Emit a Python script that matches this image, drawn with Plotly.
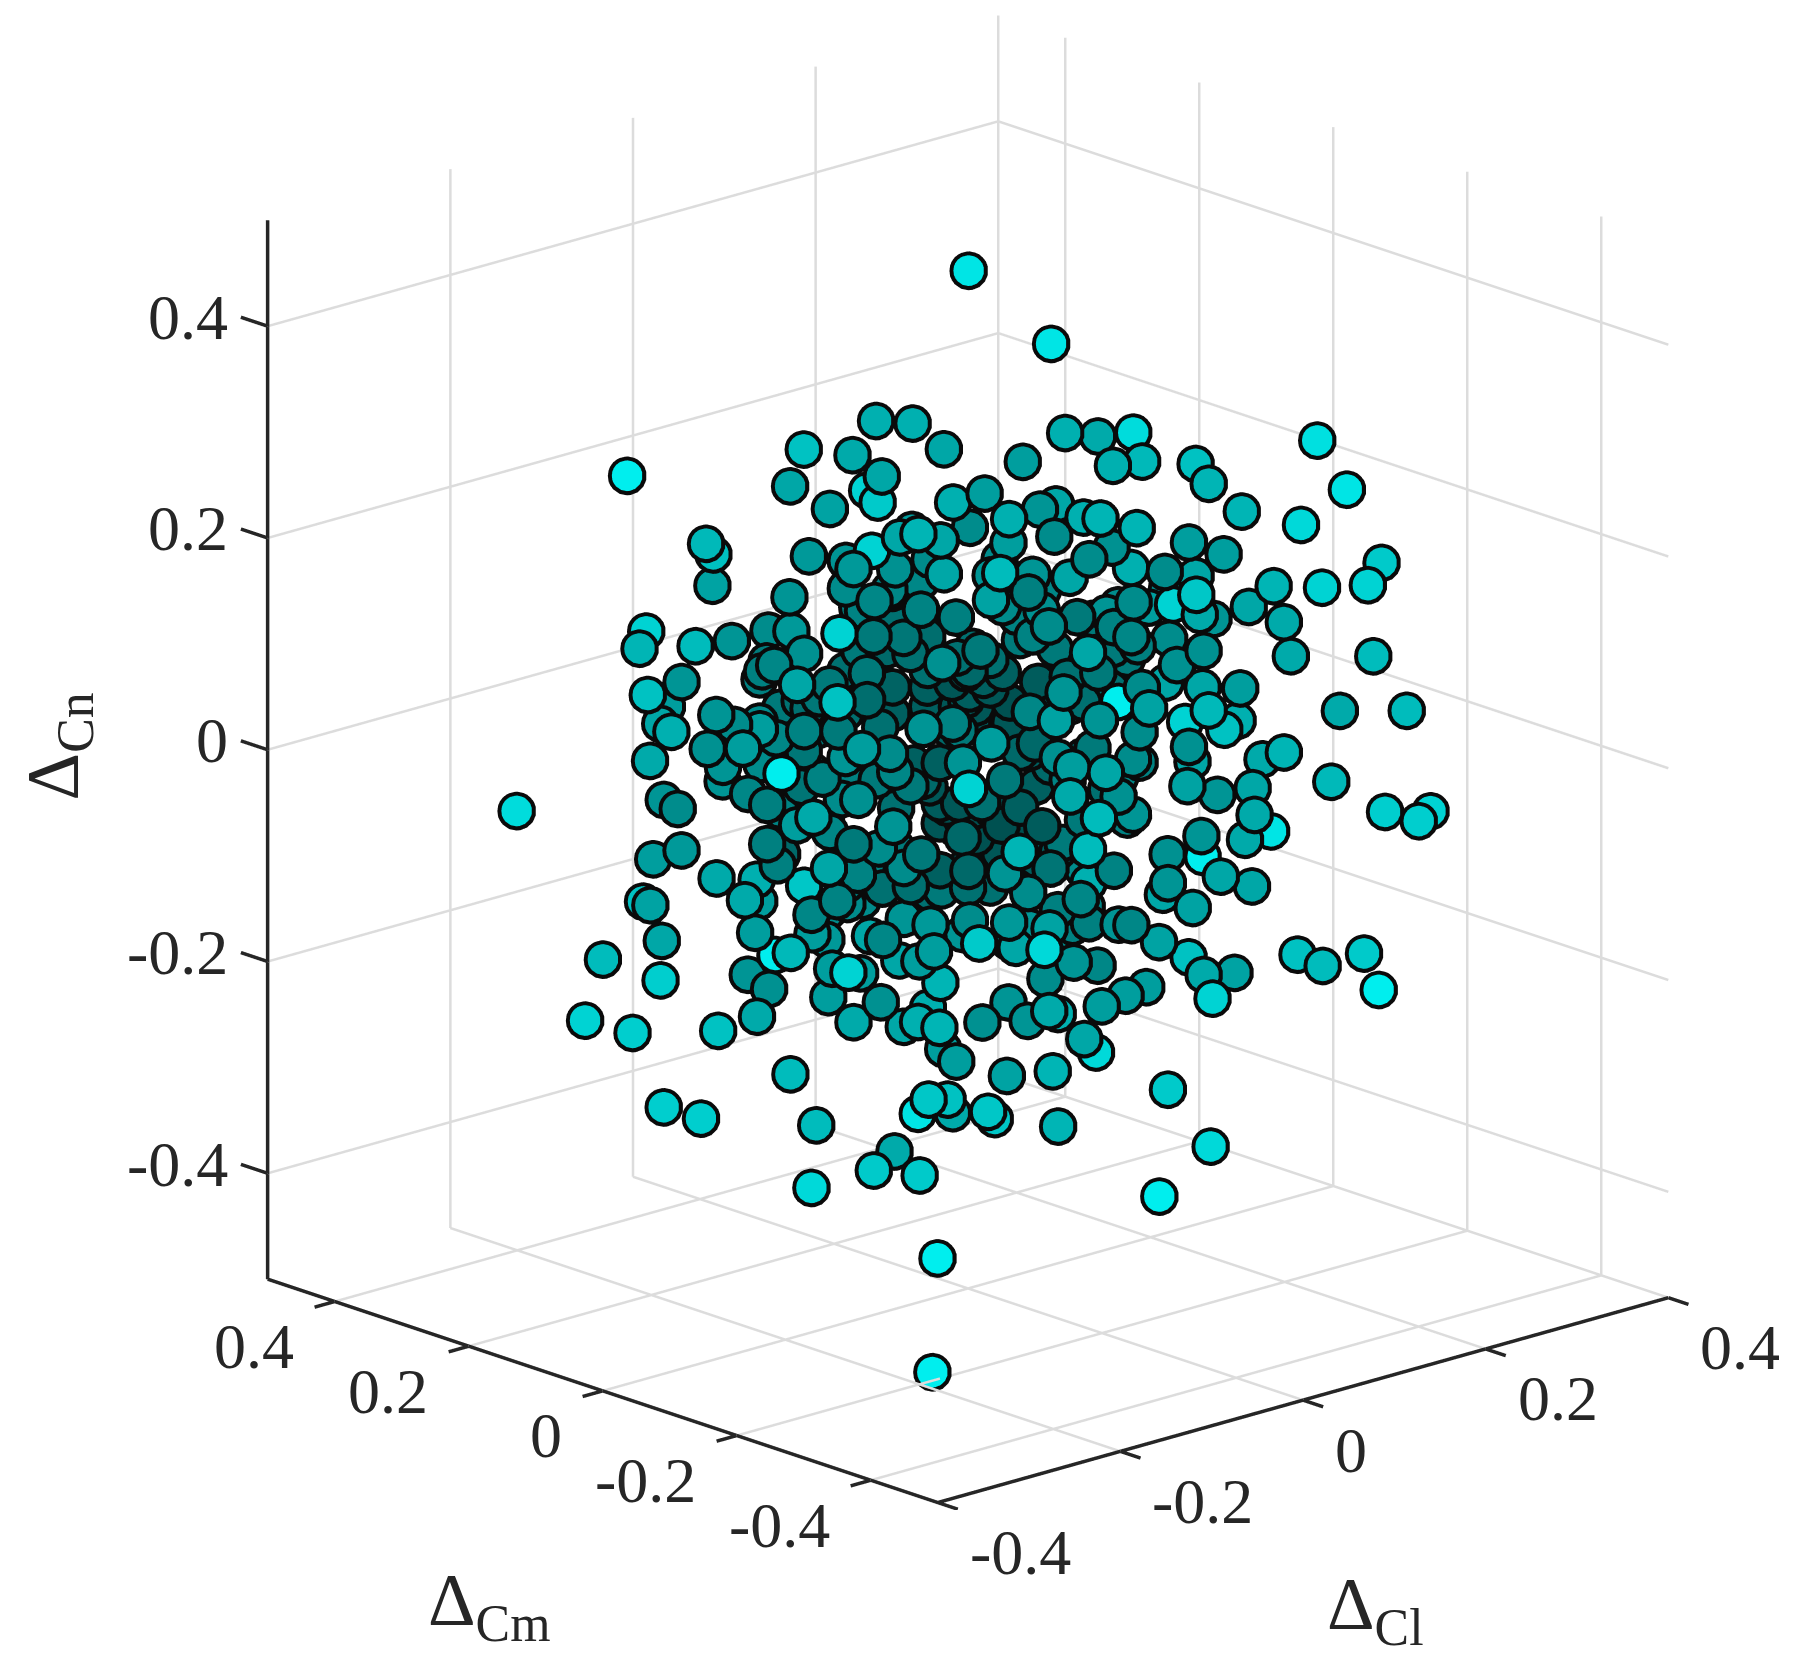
import plotly.graph_objects as go

cl = [-.04,-.235,-.093,-.072,-.054,-.134,-.066,-.102,-.13,-.092,
-.058,-.079,-.049,-.071,-.23,-.186,-.146,-.091,-.055,-.039,
.008,-.109,-.056,.001,-.106,-.03,-.042,-.054,-.03,-.094,
-.027,-.007,-.102,-.061,-.094,-.114,-.054,.003,-.02,-.005,
-.184,-.228,-.196,-.135,-.183,-.204,-.132,-.176,-.21,-.075,
-.151,-.079,-.118,-.178,-.039,-.155,-.018,-.003,-.058,-.045,
-.051,-.055,.017,.034,.041,.057,-.066,-.009,.081,.007,
-.144,-.079,-.134,-.119,-.094,-.074,-.01,-.298,-.182,-.149,
-.1,-.169,-.11,-.054,-.101,-.07,-.085,-.042,-.187,-.126,
-.155,-.055,-.043,-.032,-.103,.007,.064,-.003,-.08,-.083,
-.169,-.098,-.079,-.106,-.051,-.067,.064,.077,.037,-.155,
-.109,-.16,-.066,-.063,-.037,0,.024,-.206,-.134,-.18,
-.204,-.184,-.208,-.121,-.094,-.115,-.029,-.029,-.13,-.009,
-.033,.025,.04,-.186,-.222,-.175,-.122,-.089,-.016,-.037,
-.062,.037,-.074,-.041,-.049,-.182,-.11,-.1,-.028,-.249,
-.216,-.086,-.114,-.161,-.183,-.259,-.232,-.149,-.078,-.062,
-.08,-.09,-.106,-.016,-.037,-.069,-.097,-.023,-.047,.026,
-.142,-.214,-.193,-.127,-.103,-.052,-.029,-.009,-.029,-.042,
-.094,-.068,-.13,.007,.031,.015,.034,.094,.059,.002,
.13,.057,.116,.159,.176,.15,.236,.188,.162,.134,
.146,.086,.056,-.005,.066,.09,.041,.009,-.017,.063,
.029,.082,.093,.072,.13,.05,.117,.092,.14,.12,
.14,.144,.191,.172,.21,-.062,.053,.013,-.006,.077,
.058,.042,.006,.077,.062,.054,.103,.119,.083,.053,
.137,-.012,.074,.094,.119,.153,.134,.115,.099,.063,
.057,.126,.066,.154,.164,.014,.08,.104,.035,.01,
.106,.075,.097,.047,-.027,.098,.14,.168,.167,.198,
.177,.264,.086,.128,.085,.142,.122,.083,.118,.173,
.093,.134,.114,.074,.111,.088,.104,.122,.188,.162,
.186,.194,.152,.094,.126,.059,.109,.053,.086,.069,
.142,.09,.036,-.014,.073,-.034,.051,.034,.063,.008,
.044,.02,.074,-.037,-.017,.006,.027,.001,.034,.051,
.024,.083,.109,-.051,.021,.087,-.012,.042,.059,.07,
-.006,.134,-.022,.086,-.002,.019,.051,.021,.07,.111,
.134,.078,.048,.097,.008,-.018,.074,.015,.011,.098,
.069,-.058,-.181,.035,
.053,.037,.017,.02,.037,.057,.034,.01,-.016,-.009,-.027,.01,.037,.057,.071,.085,.074,
.049,.064,.058,.068,.074,.039,-.001,.024,.039,.058,.074,.02,.014,-.009,.028,.054,.075,
.104,.094,.085,.085,.108,.081,.098,.119,.131,.134,.093,.119,.127,.11,.094,.115,.167,.178,.146,.159,.146,.171,.146,.148,.133,.14,.115,.104,.114,
.108,.1,.123,.11,.083,.093,.079,.089,.1,.079,.093,.083,.104,.122,.138,.163,.171,.166,.151,.146,.194,
-.027,-.006,-.018,-.038,-.06,-.062,-.022,-.027,.018,.07,.13,.098,.058,-.034,.195,.162,-.039,.001,.041]

cm = [-.055,.189,.011,-.015,-.037,.063,.083,.127,-.048,.010,
.072,.099,-.044,-.121,.078,.127,.183,.114,.069,.049,
.095,-.074,-.035,-.001,.027,.142,.052,-.037,.142,.012,
.034,.009,.128,.181,.117,.037,.068,.101,.130,.111,
.230,.180,.140,.169,.229,.150,.270,.220,.157,.199,
.084,.204,.147,.013,.154,-.016,.127,.109,.072,.161,
.169,-.036,.084,.063,.054,.139,-.023,.011,.109,.096,
.180,.204,.167,.149,.117,.093,.118,.268,.227,.186,
.230,.106,.137,.172,.021,.088,.001,.052,.024,.157,
.089,.174,.159,.145,.024,.096,.130,.004,-.110,-.001,
.001,.122,.099,.027,.064,-.021,.130,.114,.059,.089,
.136,-.010,.188,.079,.046,0,.075,.153,.272,.225,
.150,.125,.050,.151,.117,.039,.141,.141,.057,.116,
.041,.074,.055,.232,.172,.219,.152,.006,.125,.046,
-.028,.059,-.117,.156,.166,.017,.138,-.085,.035,.206,
.165,.212,.142,.096,.124,.219,.185,-.024,.097,.077,
.100,.008,.027,.020,.046,-.019,-.089,.029,-.046,.073,
.072,.163,.136,.054,-.081,-.040,.036,.011,-.069,.053,
.013,-.020,.057,-.114,-.039,-.124,-.147,-.118,-.179,-.213,
-.162,-.281,-.250,-.304,-.325,-.292,-.295,-.340,-.307,-.273,
-.182,-.212,-.175,-.204,-.082,-.008,-.051,-.116,-.084,.026,
-.141,-.102,-.116,-.195,-.162,-.272,-.146,-.220,-.175,-.255,
-.280,-.285,-.344,-.320,-.368,-.132,.039,-.016,-.098,.009,
-.072,-.052,-.112,.009,-.078,-.173,-.129,-.044,-.104,-.171,
-.066,-.195,-.093,-.223,-.149,-.086,-.167,-.249,-.124,-.184,
-.281,-.052,-.292,-.192,-.100,-.123,.005,.080,-.044,-.117,
-.027,-.094,-.016,.046,-.071,-.122,-.280,-.210,-.314,-.352,
-.431,-.330,-.212,-.160,-.211,-.178,-.258,-.314,-.252,-.216,
-.221,-.167,-.142,-.197,-.139,-.215,-.235,-.257,-.235,-.308,
-.337,-.348,-.190,-.223,-.157,-.284,-.136,-.171,-.107,-.086,
-.072,-.112,-.150,-.192,-.091,-.167,-.064,-.042,.026,-.010,
-.055,-.130,-.092,-.164,-.084,-.113,-.034,-.001,-.043,-.064,
-.135,-.104,-.031,-.146,-.026,-.004,-.195,-.053,.031,.018,
-.203,-.063,-.182,-.107,-.208,-.129,-.064,-.026,.018,-.034,
-.063,.007,.045,-.016,-.115,-.082,-.197,-.019,-.119,-.228,
-.191,-.033,-.193,.061,
.144,.164,.189,.185,.164,.139,.168,.197,.23,.221,.244,.197,.164,.139,.121,.104,.118,
.149,.13,.137,.125,.118,.161,.211,.18,.161,.137,.118,.185,.192,.221,.175,.142,.116,
.08,.092,.104,.104,.075,.109,.087,.061,.046,.042,.094,.061,.051,.073,.092,.066,.001,-.013,.028,.011,.028,-.004,.028,.025,.044,.035,.066,.08,.068,
.075,.085,.056,.073,.106,.094,.111,.099,.085,.111,.094,.106,.08,.058,.037,.006,-.004,.003,.021,.028,-.032,
.244,.218,.232,.257,.285,.287,.237,.244,.187,.123,.048,.087,.137,.252,-.034,.008,.259,.209,.159]

cn = [.483,.285,.340,.338,.314,.312,.286,.256,.309,.263,
.253,.235,.264,.294,.243,.212,.161,.190,.196,.209,
.195,.255,.228,.219,.200,.165,.179,.196,.139,.170,
.141,.134,.151,.098,.098,.139,.115,.093,.118,.138,
.117,.122,.125,.109,.057,.091,.025,.030,.044,.069,
.108,.052,.081,.111,.048,.095,.059,.046,.055,.035,
.025,.112,.063,.075,.063,.007,.050,.034,.020,.078,
.039,.012,.030,.026,.025,.025,.008,-.033,-.005,.007,
-.031,.029,.018,-.015,.030,0,.026,-.012,.027,-.035,
-.024,-.049,-.041,-.060,-.018,-.047,-.084,-.003,.015,-.043,
-.014,-.064,-.070,-.060,-.085,-.069,-.103,-.100,-.095,-.061,
-.102,-.062,-.113,-.110,-.103,-.105,-.126,-.029,-.063,-.098,
-.068,-.094,-.093,-.116,-.121,-.114,-.159,-.140,-.127,-.144,
-.120,-.145,-.142,-.138,-.120,-.175,-.166,-.150,-.189,-.151,
-.135,-.186,-.131,-.193,-.188,-.142,-.187,-.139,-.191,-.172,
-.191,-.227,-.219,-.224,-.238,-.230,-.241,-.160,-.199,-.203,
-.226,-.209,-.228,-.211,-.253,-.227,-.211,-.235,-.264,-.295,
-.278,-.311,-.321,-.326,-.279,-.300,-.335,-.334,-.311,-.371,
-.368,-.372,-.385,.415,.282,.331,.328,.311,.305,.322,
.282,.306,.259,.327,.281,.247,.191,.191,.188,.189,
.197,.229,.242,.272,.230,.221,.237,.233,.249,.184,
.212,.202,.183,.201,.176,.201,.149,.161,.136,.169,
.155,.123,.124,.072,.073,.219,.153,.151,.180,.154,
.173,.142,.148,.096,.136,.172,.146,.119,.127,.139,
.088,.145,.084,.127,.092,.054,.071,.092,.070,.072,
.092,.035,.074,.040,.017,.086,.053,.012,.046,.059,
.034,.039,.058,.082,.037,.028,.032,.004,.005,-.023,
-.010,-.043,.036,.001,-.001,-.030,-.002,-.006,-.051,-.064,
-.048,-.089,-.087,-.093,-.125,-.116,-.086,-.095,-.180,-.169,
-.157,-.191,-.198,-.179,-.184,-.180,-.170,-.133,-.154,-.153,
-.234,-.221,-.210,-.220,-.275,-.194,-.239,-.246,-.250,-.248,
-.206,-.169,-.193,-.136,-.132,-.137,-.177,-.152,-.125,-.141,
-.109,-.103,-.136,-.044,-.107,-.123,-.041,-.062,-.083,-.066,
-.011,-.071,.009,-.033,.032,.015,.003,-.019,-.014,-.009,
-.019,-.005,-.062,-.039,-.272,-.277,-.288,-.339,-.324,-.341,
-.389,-.450,-.494,.006,
.124,.114,.100,.088,.091,.073,.060,.040,.011,.005,.004,0,0,.025,.030,.007,.007,
-.047,-.046,-.069,-.088,-.109,-.089,-.102,-.139,-.126,-.169,-.154,-.177,-.067,-.055,-.063,-.063,-.084,
-.08,-.09,-.09,-.116,-.108,-.138,-.13,-.136,-.129,-.12,-.163,-.067,-.048,-.026,-.011,-.035,-.057,-.043,-.038,-.069,-.098,-.097,-.145,-.18,-.209,-.199,-.2,-.215,-.212,
.093,.102,.119,.071,.064,.052,.039,.033,.04,.014,.024,-.008,-.007,.015,.009,.064,.055,.105,.092,.054,.121,
-.011,-.017,-.024,-.049,-.066,-.04,-.1,-.093,.059,-.015,.063,.147,.146,.077,.074,.026,-.179,-.187,-.233]

dist = [.95,1,.65,.65,.6,.75,.62,.6,.6,.8,
.85,.58,.65,.55,.7,.75,.58,.52,.85,.6,
.55,.68,.6,.45,.52,.5,.48,.6,.45,.42,
.4,.38,.5,.52,.48,.85,.35,.33,.4,.42,
.85,.68,.72,.5,.75,.5,.55,.6,.65,.35,
.42,.38,.38,.6,.35,.75,.35,.22,.28,.33,
.3,.48,.3,.3,.25,.2,.5,.4,.2,.3,
.5,.45,.45,.55,.4,.35,.3,.9,.62,.48,
.5,.55,.42,.33,.55,.5,.45,.42,1,.42,
.38,.32,.4,.45,.48,.35,.18,.5,.85,.5,
.62,.55,.42,.35,.45,.35,.15,.2,.25,.38,
.38,.6,.25,.4,.45,.25,.2,.45,.5,.55,
.52,.62,.62,.65,.78,.4,.45,.35,.42,.3,
.3,.35,.3,.75,.58,.6,.55,.42,.6,.5,
.52,.5,.8,.52,.55,.7,1,.55,.55,.72,
.82,.5,.48,.62,.75,.85,.82,.85,.55,.55,
.55,.48,.62,.68,.6,.65,.68,.65,.55,.55,
.72,.82,.82,.72,.78,.75,.95,.62,.78,.62,
.8,.8,.88,.95,.55,.65,.62,.9,.7,.65,
.75,.68,.68,.92,.95,.88,.8,.85,.85,.68,
.55,.55,.68,.68,.65,.6,.5,.45,.65,.55,
.45,.48,.65,.45,.6,.78,.85,.62,.5,.6,
.62,.62,.72,.62,.72,.72,.5,.58,.38,.5,
.6,.48,.45,.4,.35,.45,.55,.5,.4,.42,
.38,.6,.35,.48,.48,.6,.6,.55,.45,.58,
.7,1,.75,.65,.85,.5,.18,.12,.42,.58,
.3,.5,.3,.35,.55,.45,.68,.62,.7,.82,
.82,.85,.48,.6,.58,.5,.6,.62,.62,.95,
.5,1,.48,.5,.6,.58,.6,.6,.75,.72,
.8,1,.58,.62,.75,.85,.58,.42,.5,.38,
.55,.55,.55,.6,.88,.62,.65,.5,.5,.48,
.45,.5,.42,.88,.52,.58,.6,.45,.45,.38,
.42,.4,.65,.68,.5,.32,.72,.18,.12,.2,
.72,.5,.62,.48,.6,.55,.48,.35,.25,.35,
.45,.25,.3,.4,.68,.58,.8,.78,.68,.88,
1,1,1,.35,
.42,.4,.38,.3,.3,.28,.25,.3,.3,.3,.35,.28,.2,.2,.15,.15,.15,
.2,.2,.15,.12,.12,.3,.45,.4,.35,.3,.2,.45,.4,.3,.35,.25,.15,
.1,.1,.1,.12,.12,.18,.15,.2,.22,.35,.3,.2,.25,.2,.15,.2,.4,.4,.3,.3,.35,.4,.45,.42,.5,.4,.5,.6,.55,
.4,.45,.42,.35,.3,.3,.22,.2,.2,.15,.15,.2,.15,.15,.3,.35,.35,.45,.35,.4,.45,
.4,.3,.35,.45,.5,.5,.4,.4,.35,.25,.35,.45,.45,.45,.45,.3,.55,.45,.6]

ticks = [-0.4, -0.2, 0, 0.2, 0.4]
labels = ["-0.4", "-0.2", "0", "0.2", "0.4"]
cl_box = [-0.4, 0.4]
cm_box = [-0.5, 0.5]
cn_box = [-0.5, 0.5]
# Scene ranges run slightly past the drawn box so that box lines and ticks are not clipped.
cl_range = [-0.44, 0.44]
cm_range = [-0.55, 0.55]
cn_range = [-0.55, 0.55]

def segments(pairs):
    xs, ys, zs = [], [], []
    for a, b in pairs:
        xs += [a[0], b[0], None]
        ys += [a[1], b[1], None]
        zs += [a[2], b[2], None]
    return xs, ys, zs

l0, l1 = cl_box
m0, m1 = cm_box
n0, n1 = cn_box

grid = []
for t in ticks:
    if t != l0:  # the line at the first Cl tick would lie on the drawn axes
        grid.append(((t, m1, n0), (t, m1, n1)))
        grid.append(((t, m0, n0), (t, m1, n0)))
    grid.append(((l1, t, n0), (l1, t, n1)))
    grid.append(((l0, t, n0), (l1, t, n0)))
    grid.append(((l0, m1, t), (l1, m1, t)))
    grid.append(((l1, m0, t), (l1, m1, t)))

axes = [((l0, m0, n0), (l1, m0, n0)), ((l0, m0, n0), (l0, m1, n0)), ((l0, m1, n0), (l0, m1, n1))]
for t in ticks:
    axes.append(((t, m0, n0), (t, m0 - 0.03, n0)))
    axes.append(((l0, t, n0), (l0 - 0.022, t, n0)))
    axes.append(((l0, m1, t), (l0, m1 + 0.04, t)))

gx, gy, gz = segments(grid)
ax_x, ax_y, ax_z = segments(axes)

fig = go.Figure()
fig.add_trace(go.Scatter3d(x=gx, y=gy, z=gz, mode="lines", line=dict(color="#dcdcdc", width=5), hoverinfo="skip"))
fig.add_trace(go.Scatter3d(x=ax_x, y=ax_y, z=ax_z, mode="lines", line=dict(color="#262626", width=7), hoverinfo="skip"))
fig.add_trace(go.Scatter3d(x=cl, y=cm, z=cn, mode="markers", hoverinfo="skip",
                           marker=dict(size=22.5, color="#0a0a0a", opacity=1, line=dict(width=0))))
fig.add_trace(go.Scatter3d(x=cl, y=cm, z=cn, mode="markers", hoverinfo="skip",
                           marker=dict(size=17.8, color=dist, cmin=0, cmax=1, opacity=1,
                                       colorscale=[[0, "#003c3c"], [1, "#00eeee"]], line=dict(width=0))))

font_tick = dict(family="Liberation Serif", size=64, color="#262626")
font_title = dict(family="Liberation Serif", size=74, color="#262626")
notes = []
for t, s in zip(ticks, labels):
    notes.append(dict(x=l0, y=m1, z=t, text=s, showarrow=False, xanchor="right", yanchor="middle", xshift=-38, yshift=9, font=font_tick))
    notes.append(dict(x=l0, y=t, z=n0, text=s, showarrow=False, xanchor="right", yanchor="middle", xshift=-39, yshift=-45, font=font_tick))
    notes.append(dict(x=t, y=m0, z=n0, text=s, showarrow=False, xanchor="left", yanchor="middle", xshift=30, yshift=-50, font=font_tick))
notes.append(dict(x=l0, y=m1, z=0, text="Δ<sub>Cn</sub>", showarrow=False, xanchor="center", yanchor="middle", textangle=-90, xshift=-209, yshift=3, font=font_title))
notes.append(dict(x=l0, y=0, z=n0, text="Δ<sub>Cm</sub>", showarrow=False, xanchor="center", yanchor="middle", xshift=-114, yshift=-215, font=font_title))
notes.append(dict(x=0, y=m0, z=n0, text="Δ<sub>Cl</sub>", showarrow=False, xanchor="center", yanchor="middle", xshift=72, yshift=-209, font=font_title))

def axis(rng):
    return dict(range=rng, visible=False, showgrid=False, zeroline=False, showbackground=False, showspikes=False)

fig.update_layout(width=1802, height=1665, margin=dict(l=0, r=0, t=0, b=0), paper_bgcolor="white", showlegend=False,
    scene=dict(domain=dict(x=[0.0655, 1], y=[0.0979, 1]),
               xaxis=axis(cl_range), yaxis=axis(cm_range), zaxis=axis(cn_range),
               aspectmode="manual", aspectratio=dict(x=1.452, y=1.452, z=1.629), annotations=notes,
               camera=dict(projection=dict(type="orthographic"), up=dict(x=0, y=0, z=1), center=dict(x=0, y=0, z=0),
                           eye=dict(x=-0.642*1.137, y=-0.70*1.137, z=0.305*1.137))))
fig.write_html("out.html")
